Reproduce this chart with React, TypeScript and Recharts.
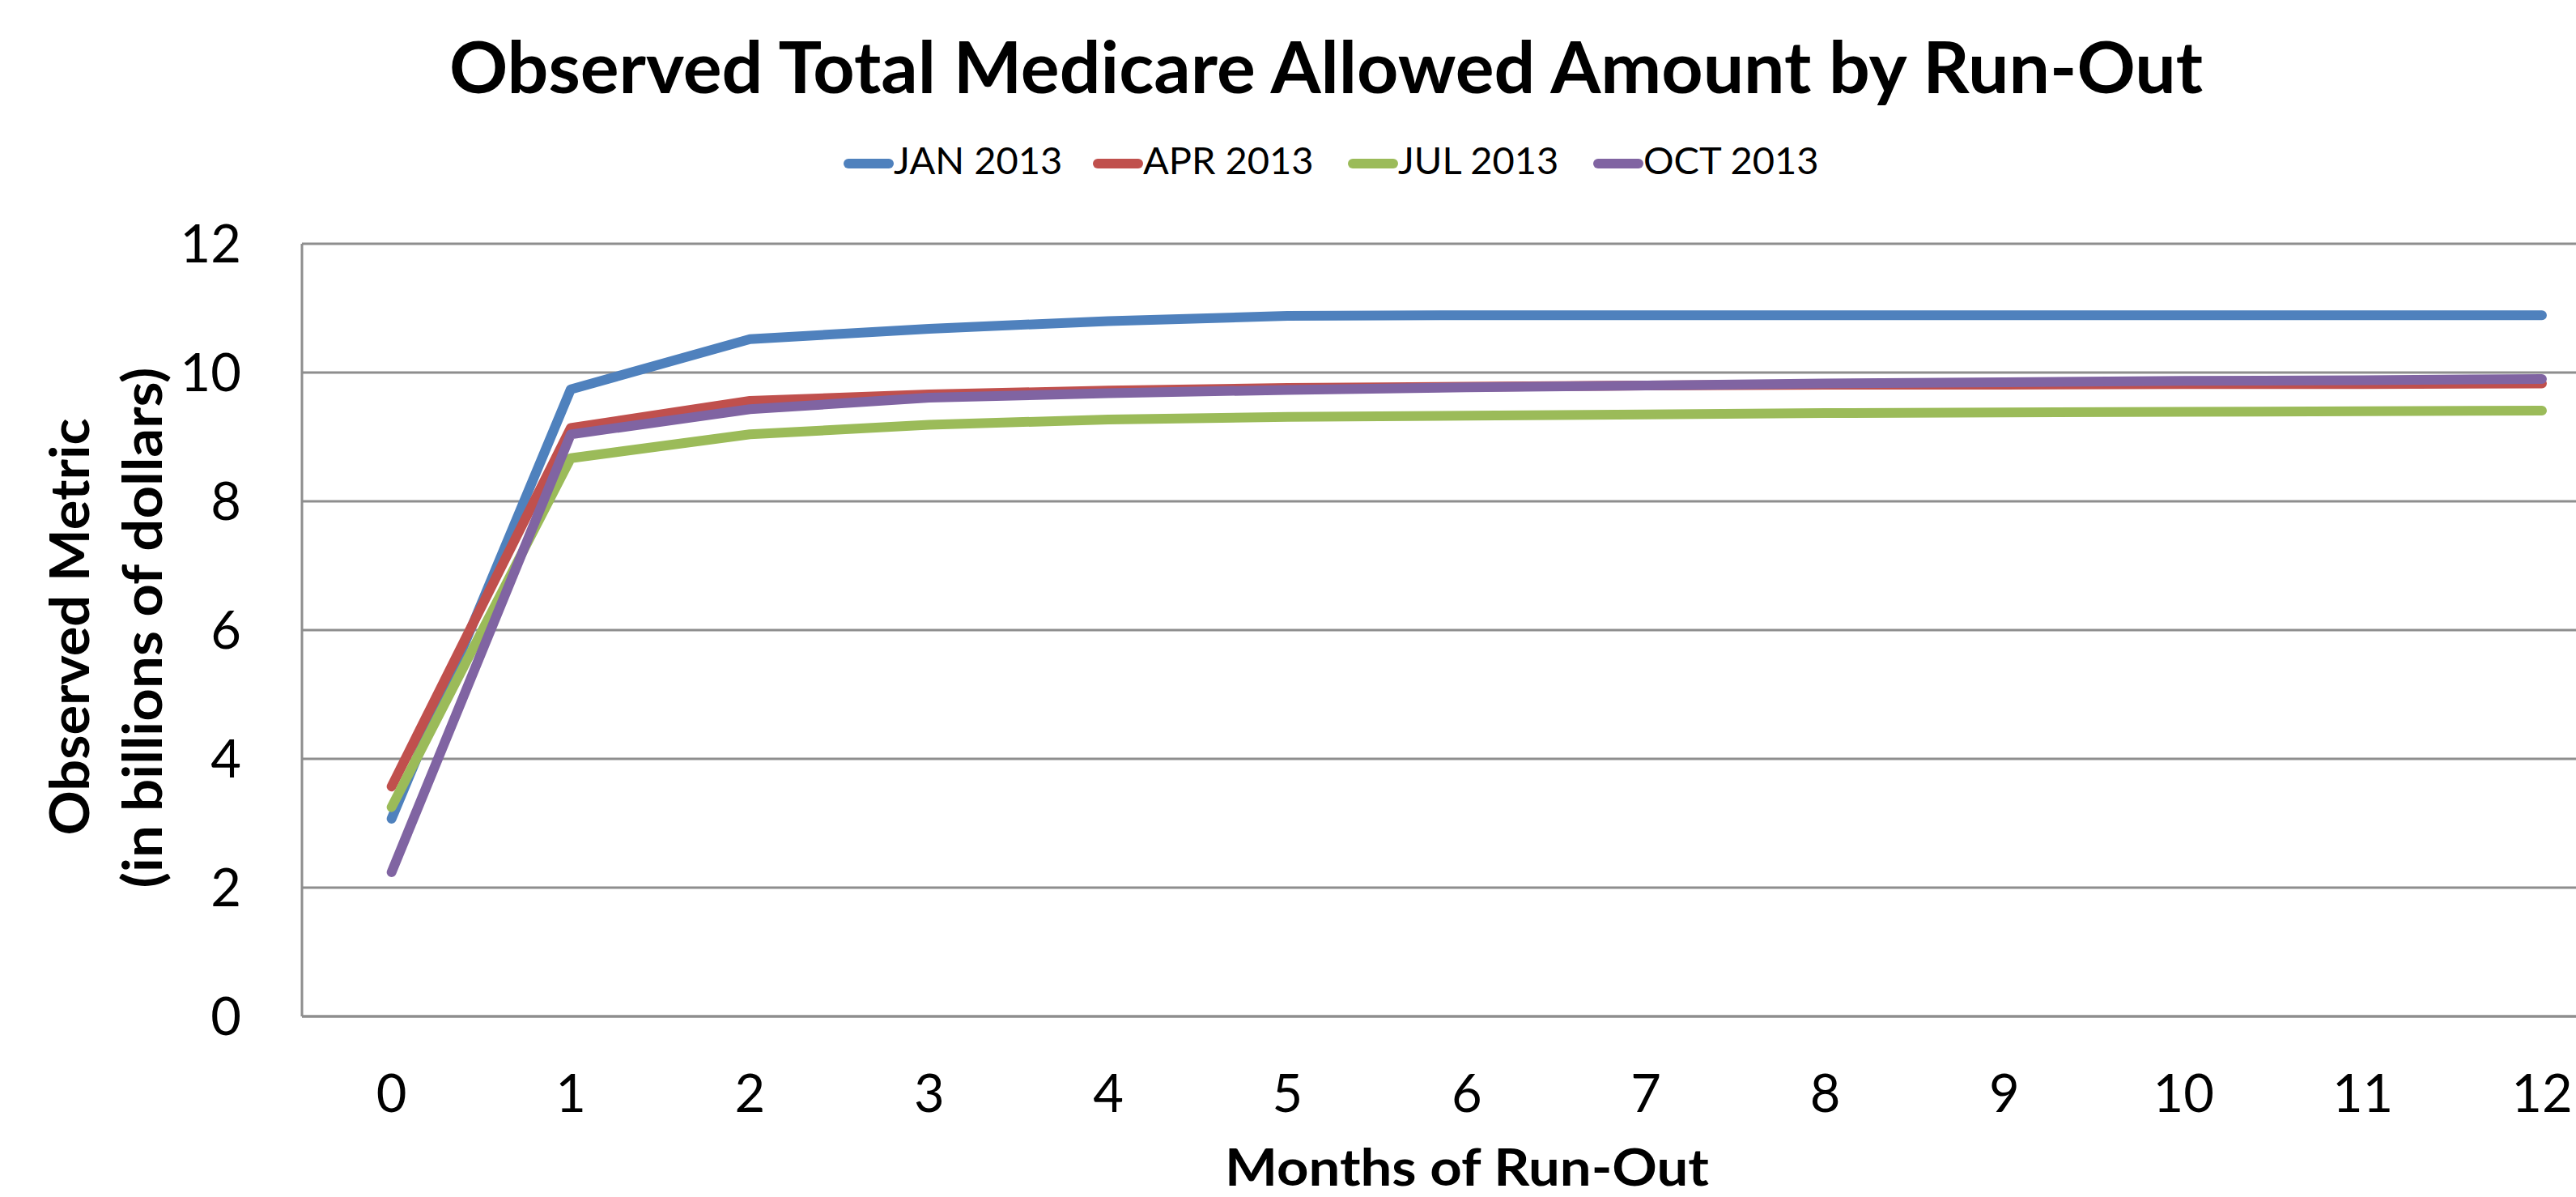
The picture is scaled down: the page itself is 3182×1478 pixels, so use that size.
import { LineChart, Line, XAxis, YAxis, CartesianGrid } from "recharts";

const months = [0, 1, 2, 3, 4, 5, 6, 7, 8, 9, 10, 11, 12];
const yTicks = [0, 2, 4, 6, 8, 10, 12];

// billions of dollars
const jan2013 = [3.07, 9.74, 10.52, 10.68, 10.8, 10.88, 10.89, 10.89, 10.89, 10.89, 10.89, 10.89, 10.89];
const apr2013 = [3.57, 9.14, 9.56, 9.66, 9.72, 9.76, 9.78, 9.8, 9.81, 9.81, 9.82, 9.82, 9.83];
const jul2013 = [3.25, 8.67, 9.04, 9.19, 9.27, 9.31, 9.33, 9.35, 9.37, 9.38, 9.39, 9.4, 9.41];
const oct2013 = [2.24, 9.04, 9.43, 9.61, 9.68, 9.73, 9.77, 9.8, 9.83, 9.85, 9.87, 9.88, 9.9];

const series = [
  { key: "jan", name: "JAN 2013", color: "#4F81BD", values: jan2013 },
  { key: "apr", name: "APR 2013", color: "#C0504D", values: apr2013 },
  { key: "jul", name: "JUL 2013", color: "#9BBB59", values: jul2013 },
  { key: "oct", name: "OCT 2013", color: "#8064A2", values: oct2013 },
];

const data = months.map((m, i) => {
  const row: any = { month: m };
  series.forEach((s) => (row[s.key] = s.values[i]));
  return row;
});

const font = "Lato, 'Open Sans', sans-serif";
const gridColor = "#8E8E8E";

// legend marker starts
const legendX = [1042, 1350, 1665, 1968];

export default function App() {
  return (
    <div style={{ position: "absolute", left: 0, top: 0, width: 3182, height: 1478, background: "#fff", overflow: "hidden" }}>
      <LineChart width={3182} height={1478} data={data} margin={{ top: 301, right: 0, bottom: 123, left: 0 }}>
        <CartesianGrid vertical={false} stroke={gridColor} strokeWidth={3} />
        <XAxis
          type="number"
          dataKey="month"
          domain={[-0.5, 12.19]}
          ticks={months}
          interval={0}
          allowDataOverflow
          height={100}
          tickLine={false}
          tickSize={0}
          tickMargin={72}
          axisLine={{ stroke: gridColor, strokeWidth: 3 }}
          tick={{ fontSize: 65, fill: "#000", fontFamily: font }}
        />
        <YAxis
          domain={[0, 12]}
          ticks={yTicks}
          interval={0}
          width={373}
          tickLine={false}
          tickSize={0}
          tickMargin={75}
          axisLine={{ stroke: gridColor, strokeWidth: 3 }}
          tick={{ fontSize: 65, fill: "#000", fontFamily: font }}
        />
        {series.map((s) => (
          <Line
            key={s.key}
            type="linear"
            dataKey={s.key}
            name={s.name}
            stroke={s.color}
            strokeWidth={12}
            strokeLinecap="round"
            strokeLinejoin="round"
            dot={false}
            activeDot={false}
            isAnimationActive={false}
          />
        ))}
      </LineChart>
      <svg width={3182} height={1478} style={{ position: "absolute", left: 0, top: 0, pointerEvents: "none" }}>
        <text x={1638} y={115} textAnchor="middle" fontFamily={font} fontWeight="bold" fontSize={88} textLength={2166} lengthAdjust="spacingAndGlyphs">
          Observed Total Medicare Allowed Amount by Run-Out
        </text>
        {series.map((s, i) => (
          <g key={s.key}>
            <line x1={legendX[i] + 6} x2={legendX[i] + 56} y1={202} y2={202} stroke={s.color} strokeWidth={12} strokeLinecap="round" />
            <text x={legendX[i] + 62} y={215} fontFamily={font} fontSize={47} fill="#000">
              {s.name}
            </text>
          </g>
        ))}
        <text transform="translate(110, 774) rotate(-90)" textAnchor="middle" fontFamily={font} fontWeight="bold" fontSize={67} textLength={515} lengthAdjust="spacingAndGlyphs">
          Observed Metric
        </text>
        <text transform="translate(200, 775) rotate(-90)" textAnchor="middle" fontFamily={font} fontWeight="bold" fontSize={67} textLength={643} lengthAdjust="spacingAndGlyphs">
          (in billions of dollars)
        </text>
        <text x={1812} y={1464} textAnchor="middle" fontFamily={font} fontWeight="bold" fontSize={63} textLength={598} lengthAdjust="spacingAndGlyphs">
          Months of Run-Out
        </text>
      </svg>
    </div>
  );
}
